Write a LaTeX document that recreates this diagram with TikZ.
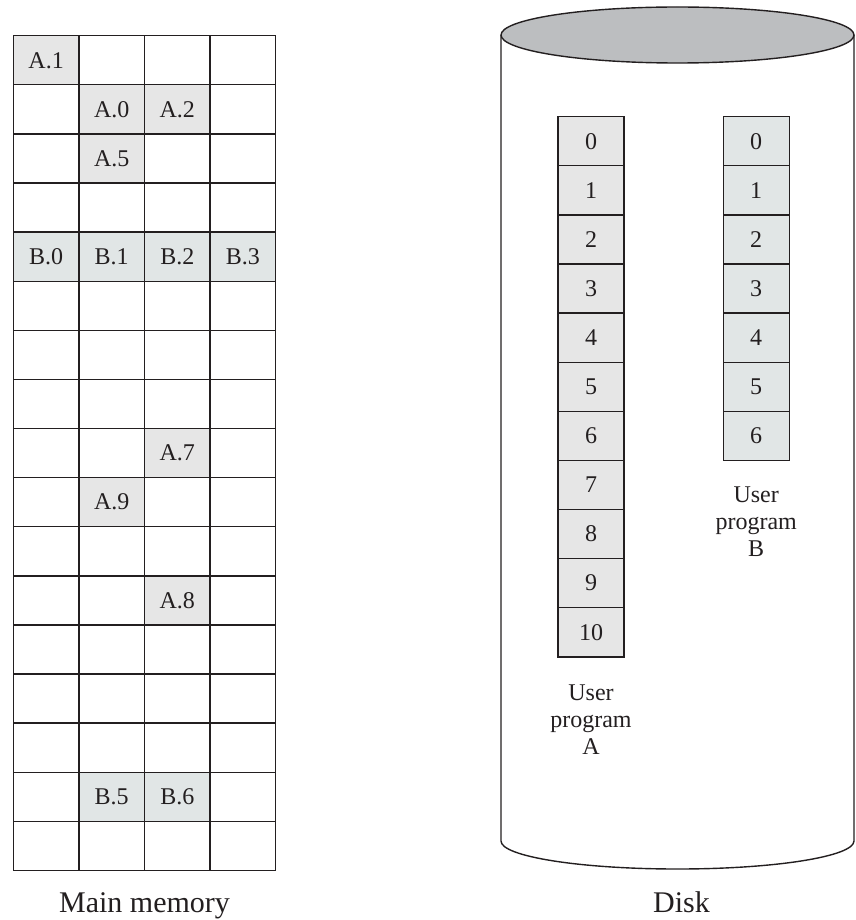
\documentclass[tikz,border=0pt]{standalone}
\usepackage{fontspec}
\setmainfont{Liberation Serif}
\definecolor{linec}{HTML}{231F20}
\definecolor{afill}{HTML}{E6E6E6}
\definecolor{bfill}{HTML}{E1E6E6}
\definecolor{topfill}{HTML}{BCBEC0}
\begin{document}
\begin{tikzpicture}[x=1pt,y=-1pt,line width=1.4pt,draw=linec,
  cellfont/.style={font=\fontsize{24}{27}\selectfont,text=linec},
  acell/.style={cellfont,draw=linec,fill=afill,minimum width=65.6pt,minimum height=49.1pt,inner sep=0pt},
  bcell/.style={acell,fill=bfill},
  caption/.style={font=\fontsize{30}{34}\selectfont,text=linec,anchor=base},
  plabel/.style={cellfont,anchor=base}]
\useasboundingbox (0,0) rectangle (855,920);
% ---------- Main memory grid ----------
\foreach \i in {0,...,17}
  \draw[linec] (13.3,{35.7+49.1*\i}) -- (275.7,{35.7+49.1*\i});
\foreach \j in {0,...,4}
  \draw[linec] ({13.3+65.6*\j},35.7) -- ({13.3+65.6*\j},870.4);
\foreach \r/\c/\t/\s in {0/0/A.1/acell, 1/1/A.0/acell, 1/2/A.2/acell, 2/1/A.5/acell,
  4/0/B.0/bcell, 4/1/B.1/bcell, 4/2/B.2/bcell, 4/3/B.3/bcell,
  8/2/A.7/acell, 9/1/A.9/acell, 11/2/A.8/acell, 15/1/B.5/bcell, 15/2/B.6/bcell}
  \node[\s] (m\r\c) at ({13.3+65.6*(\c+0.5)},{35.7+49.1*(\r+0.5)}) {\t};
\node[caption] (mmlabel) at (144.5,912) {Main memory};
% ---------- Disk ----------
\draw[linec] (501,35) -- (501,841)
  arc[start angle=180,end angle=360,x radius=176.5pt,y radius=28pt]
  -- (854,35);
\draw[linec,fill=topfill] (677.5,35) ellipse [x radius=176.5pt,y radius=28pt];
\foreach \k in {0,...,10}
  \node[acell,minimum width=66pt] (pa\k) at (591,{116.7+49.1*(\k+0.5)}) {\k};
\foreach \k in {0,...,6}
  \node[bcell,minimum width=66pt] (pb\k) at (756.2,{116.7+49.1*(\k+0.5)}) {\k};
\node[plabel] (pal1) at (591,700) {User};
\node[plabel] (pal2) at (591,727) {program};
\node[plabel] (pal3) at (591,754) {A};
\node[plabel] (pbl1) at (756.2,502) {User};
\node[plabel] (pbl2) at (756.2,529) {program};
\node[plabel] (pbl3) at (756.2,556) {B};
\node[caption] (disklabel) at (681.5,912) {Disk};
\end{tikzpicture}
\end{document}
